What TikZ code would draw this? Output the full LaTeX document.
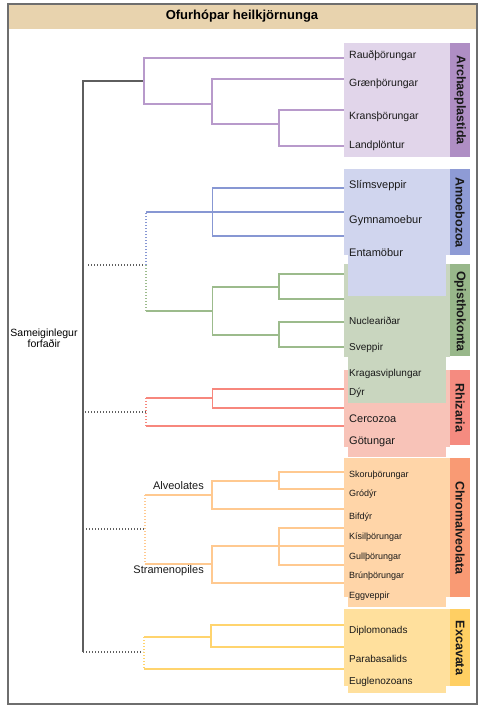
\documentclass[tikz,border=0pt]{standalone}
\usepackage{fontspec}
\setmainfont{Liberation Sans}
\definecolor{purl}{HTML}{B89ACB}
\definecolor{purbox}{HTML}{E1D5EA}
\definecolor{purbar}{HTML}{AF8EC4}
\definecolor{blul}{HTML}{8797D3}
\definecolor{blubox}{HTML}{D0D5EE}
\definecolor{blubar}{HTML}{8E9BD5}
\definecolor{grnl}{HTML}{9CBB8C}
\definecolor{grnbox}{HTML}{C9D6BF}
\definecolor{grnbar}{HTML}{98B78A}
\definecolor{pnkl}{HTML}{F7877D}
\definecolor{pnkbox}{HTML}{F8C3B8}
\definecolor{pnkbar}{HTML}{F58B80}
\definecolor{orgl}{HTML}{FFC990}
\definecolor{orgbox}{HTML}{FFD5A8}
\definecolor{orgbar}{HTML}{F99A74}
\definecolor{yell}{HTML}{FFD46E}
\definecolor{yelbox}{HTML}{FFE09D}
\definecolor{yelbar}{HTML}{FFCF63}
\definecolor{titlebg}{HTML}{E8D3AE}
\definecolor{framec}{HTML}{6E6E6E}
\definecolor{rootc}{HTML}{5E5E5E}
\tikzset{
  branch/.style={line width=1.5pt},
  dots/.style={line width=1.5pt, dash pattern=on 1.2pt off 1.8pt},
  leafA/.style={anchor=west, inner sep=0pt, text=black!90, font=\fontsize{10.5}{12}\selectfont},
  leafB/.style={anchor=west, inner sep=0pt, text=black!90, font=\fontsize{11}{12}\selectfont},
  leafC/.style={anchor=west, inner sep=0pt, text=black!90, font=\fontsize{10}{12}\selectfont},
  leafD/.style={anchor=west, inner sep=0pt, text=black!90, font=\fontsize{9}{10}\selectfont},
  barlabel/.style={rotate=-90, inner sep=0pt, text=black!90, font=\bfseries\fontsize{12.5}{14}\selectfont},
  sublabel/.style={anchor=east, inner sep=0pt, text=black!90, font=\fontsize{11}{12}\selectfont},
}
\begin{document}
\begin{tikzpicture}[x=1pt,y=-1pt]
\useasboundingbox (0,0) rectangle (485,710);
% title band and frame
\fill[titlebg] (8,4) rectangle (477,29);
\draw[framec, line width=1.5pt] (8,4) rectangle (477,704);
\node[font=\bfseries\fontsize{13}{15}\selectfont, inner sep=0pt] (title) at (242,16) {Ofurhópar heilkjörnunga};

% ---------- main boxes and bars
\fill[purbox] (344,43) rectangle (450,157);
\fill[purbar] (450,43) rectangle (470,157);
\fill[blubox] (344,169) rectangle (450,255);
\fill[blubar] (450,169) rectangle (470,255);
\fill[grnbox] (344,264) rectangle (450,357);
\fill[grnbar] (450,264) rectangle (470,356);
\fill[pnkbox] (344,370) rectangle (450,447);
\fill[pnkbar] (450,370) rectangle (470,445);
\fill[orgbox] (344,458) rectangle (450,597);
\fill[orgbar] (450,458) rectangle (470,597);
\fill[yelbox] (344,609) rectangle (450,686);
\fill[yelbar] (450,609) rectangle (470,686);
% extension boxes
\fill[blubox] (348,240) rectangle (446,296);
\fill[grnbox] (348,345) rectangle (446,403);
\fill[pnkbox] (348,440) rectangle (446,457);
\fill[orgbox] (348,590) rectangle (446,607);
\fill[yelbox] (348,680) rectangle (446,693);

% ---------- coordinates
\coordinate (rt) at (83,80.7);
\coordinate (rb) at (83,652);
% Archaeplastida
\coordinate (jA) at (144,80.7);
\coordinate (jA2) at (212,104);
\coordinate (jA3) at (279,124);
\coordinate (l1) at (344,58);
\coordinate (l2) at (344,79);
\coordinate (l3) at (344,110);
\coordinate (l4) at (344,146);
% Amoebozoa / Opisthokonta
\coordinate (rAO) at (88,265);
\coordinate (jAO) at (146,265);
\coordinate (jB) at (146,212);
\coordinate (jB2) at (212.7,212);
\coordinate (b1) at (344,188);
\coordinate (b2) at (344,212);
\coordinate (b3) at (344,236);
\coordinate (jG) at (146,311);
\coordinate (jG2) at (212.7,311);
\coordinate (jG3) at (279,287);
\coordinate (jG4) at (279,335);
\coordinate (g1) at (344,274);
\coordinate (g2) at (344,299);
\coordinate (g3) at (344,322);
\coordinate (g4) at (344,347);
% Rhizaria
\coordinate (rR) at (85,412);
\coordinate (jR) at (146,412);
\coordinate (jR1) at (146,398);
\coordinate (jR2) at (146,426);
\coordinate (jR3) at (212.7,398);
\coordinate (p1) at (344,389);
\coordinate (p2) at (344,408);
\coordinate (p3) at (344,426);
% Chromalveolata
\coordinate (rC) at (86,529);
\coordinate (jC) at (145,529);
\coordinate (jC1) at (145,495);
\coordinate (jC2) at (145,564);
\coordinate (jC3) at (212,495);
\coordinate (jC4) at (279,481);
\coordinate (jC5) at (212,564);
\coordinate (jC6) at (279,546);
\coordinate (c1) at (344,472);
\coordinate (c2) at (344,489);
\coordinate (c3) at (344,509);
\coordinate (c4) at (344,528);
\coordinate (c5) at (344,546);
\coordinate (c6) at (344,565);
\coordinate (c7) at (344,583);
% Excavata
\coordinate (jE) at (143,652);
\coordinate (jE1) at (144,637);
\coordinate (jE2) at (144,669);
\coordinate (jE3) at (211,637);
\coordinate (e1) at (344,625);
\coordinate (e2) at (344,647);
\coordinate (e3) at (344,669);

% ---------- root
\draw[rootc, line width=1.7pt] (jA) -- (rt) -- (rb);
\draw[dots, rootc] (rb) -- (jE);
\draw[dots, rootc] (rAO) -- (jAO);
\draw[dots, rootc] (rR) -- (jR);
\draw[dots, rootc] (rC) -- (jC);

% Archaeplastida
\draw[branch, purl] (jA) |- (l1);
\draw[branch, purl] (jA) |- (jA2);
\draw[branch, purl] (jA2) |- (l2);
\draw[branch, purl] (jA2) |- (jA3);
\draw[branch, purl] (jA3) |- (l3);
\draw[branch, purl] (jA3) |- (l4);
% Amoebozoa
\draw[dots, blul] (jAO) -- (jB);
\draw[branch, blul] (jB) -- (b2);
\draw[branch, blul] (b1) -| (jB2) |- (b3);
% Opisthokonta
\draw[dots, grnl] (jAO) -- (jG);
\draw[branch, grnl] (jG) -- (jG2);
\draw[branch, grnl] (jG3) -| (jG2) |- (jG4);
\draw[branch, grnl] (g1) -| (jG3) |- (g2);
\draw[branch, grnl] (g3) -| (jG4) |- (g4);
% Rhizaria
\draw[dots, pnkl] (jR1) -- (jR2);
\draw[branch, pnkl] (jR1) -- (jR3);
\draw[branch, pnkl] (p1) -| (jR3) |- (p2);
\draw[branch, pnkl] (jR2) -- (p3);
% Chromalveolata
\draw[dots, orgl] (jC1) -- (jC2);
\draw[branch, orgl] (jC1) -- (jC3);
\draw[branch, orgl] (c1) -| (jC4) |- (c2);
\draw[branch, orgl] (jC4) -| (jC3) |- (c3);
\draw[branch, orgl] (jC2) -- (jC5);
\draw[branch, orgl] (jC6) -| (jC5) |- (c7);
\draw[branch, orgl] (c4) -| (jC6) |- (c6);
\draw[branch, orgl] (jC6) -- (c5);
% Excavata
\draw[dots, yell] (jE1) -- (jE2);
\draw[branch, yell] (jE1) -- (jE3);
\draw[branch, yell] (e1) -| (jE3) |- (e2);
\draw[branch, yell] (jE2) -- (e3);

% ---------- labels
\node[align=center, inner sep=0pt, font=\fontsize{10.5}{11}\selectfont] (anc) at (44,338) {Sameiginlegur\\forfaðir};
\node[sublabel] (alv) at (204,486) {Alveolates};
\node[sublabel] (str) at (204,571) {Stramenopiles};

\node[leafA] (n1) at (349,56) {Rauðþörungar};
\node[leafA] (n2) at (349,84) {Grænþörungar};
\node[leafA] (n3) at (349,117) {Kransþörungar};
\node[leafA] (n4) at (349,146) {Landplöntur};

\node[leafB] (n5) at (349,186) {Slímsveppir};
\node[leafB] (n6) at (349,221) {Gymnamoebur};
\node[leafB] (n7) at (349,253) {Entamöbur};

\node[leafC] (n8) at (349,321) {Nucleariðar};
\node[leafC] (n9) at (349,348) {Sveppir};
\node[leafC] (n10) at (349,374) {Kragasviplungar};
\node[leafC] (n11) at (349,393) {Dýr};

\node[leafB] (n12) at (349,419) {Cercozoa};
\node[leafB] (n13) at (349,442) {Götungar};

\node[leafD] (n14) at (349,475) {Skoruþörungar};
\node[leafD] (n15) at (349,494) {Gródýr};
\node[leafD] (n16) at (349,517) {Bifdýr};
\node[leafD] (n17) at (349,537) {Kísilþörungar};
\node[leafD] (n18) at (349,557) {Gullþörungar};
\node[leafD] (n19) at (349,576) {Brúnþörungar};
\node[leafD] (n20) at (349,596) {Eggveppir};

\node[leafC] (n21) at (349,631) {Diplomonads};
\node[leafC] (n22) at (349,659) {Parabasalids};
\node[leafC] (n23) at (349,682) {Euglenozoans};

\node[barlabel] (g_A) at (460,100) {Archaeplastida};
\node[barlabel] (g_B) at (460,212.5) {Amoebozoa};
\node[barlabel] (g_O) at (460,311.5) {Opisthokonta};
\node[barlabel] (g_R) at (460,408) {Rhizaria};
\node[barlabel] (g_C) at (460,528) {Chromalveolata};
\node[barlabel] (g_E) at (460,648) {Excavata};
\end{tikzpicture}
\end{document}
